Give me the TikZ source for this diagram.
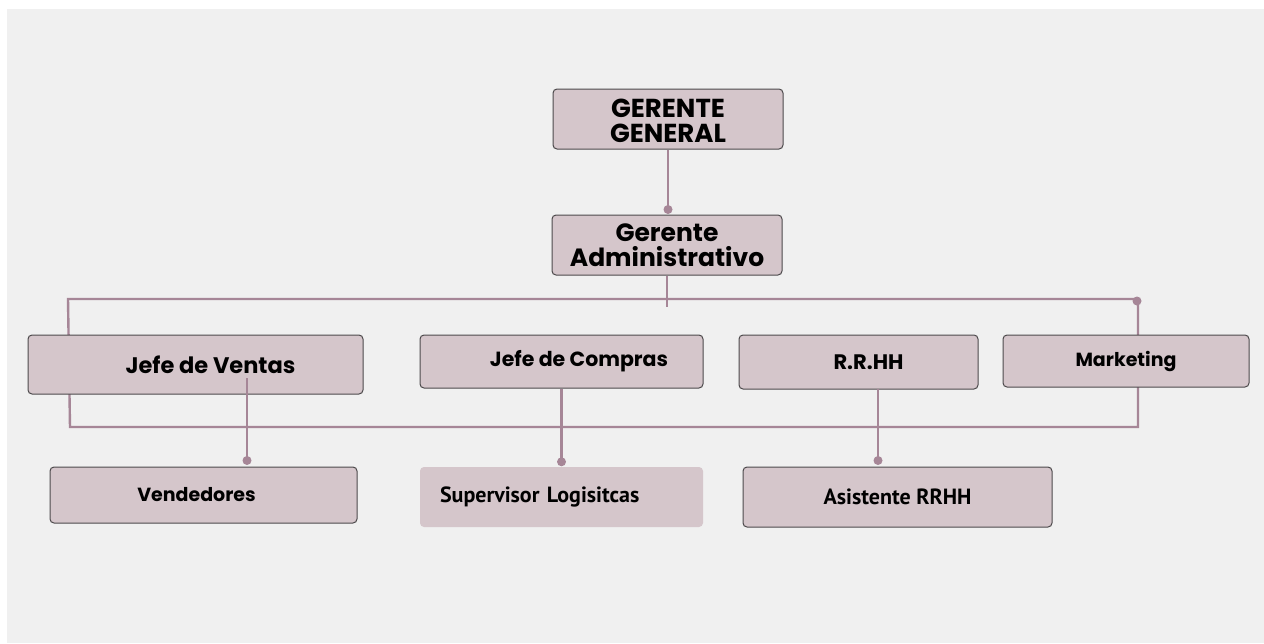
\documentclass[tikz,border=0pt]{standalone}
\usepackage{fontspec}
\setmainfont{Poppins}
\newfontfamily\ptsans{PT Sans}
\usetikzlibrary{calc}
\definecolor{boxfill}{HTML}{D5C6CB}
\definecolor{boxline}{HTML}{4D4A4C}
\definecolor{wire}{HTML}{A68697}
\definecolor{paper}{HTML}{F0F0F0}

\begin{document}
\begin{tikzpicture}[x=1pt, y=-1pt, font=\bfseries,
box/.style={rectangle, rounded corners=4pt, draw=boxline, line width=1pt, fill=boxfill, inner sep=0pt, align=center},
flat/.style={rectangle, rounded corners=4pt, fill=boxfill, inner sep=0pt},
link/.style={draw=wire, line width=2.4pt},
dot/.style={circle, fill=wire, inner sep=0pt, minimum size=9pt}]
 \useasboundingbox (0,0) rectangle (1264,643);
 \fill[white] (0,0) rectangle (1264,643);
 \fill[paper] (7,9) rectangle (1264,643);

 % bus round the second row
 \coordinate (busnw) at (70,299);
 \coordinate (busse) at (1138,427);
 \draw[link] (68,299) -- (busnw |- busse) -- (busse) -- (busse |- busnw) -- cycle;

 \node[box, minimum width=230pt, minimum height=60pt, font=\fontsize{26}{25}\selectfont\bfseries] (gg) at (668,119) {\rule{0pt}{22pt}GERENTE\\GENERAL};
 \node[box, minimum width=230pt, minimum height=60pt, font=\fontsize{25}{25}\selectfont\bfseries] (ga) at (667,245) {Gerente\\Administrativo};
 \node[box, minimum width=335pt, minimum height=59pt, font=\fontsize{22.5}{24}\selectfont\bfseries] (ventas) at (195.5,364.5) {\hspace*{30pt}Jefe de Ventas};
 \node[box, minimum width=283pt, minimum height=53pt, font=\fontsize{20.5}{23}\selectfont\bfseries] (compras) at (561.5,361.5) {\hspace*{35pt}Jefe de Compras};
 \node[box, minimum width=239pt, minimum height=54pt, font=\fontsize{21}{21}\selectfont\bfseries] (rrhh) at (858.5,362) {\hspace*{20pt}R.R.HH};
 \node[box, minimum width=246pt, minimum height=52pt, font=\fontsize{19}{21}\selectfont\bfseries] (mkt) at (1126,361) {Marketing};
 \node[box, minimum width=307pt, minimum height=56pt, font=\fontsize{19}{22}\selectfont\bfseries] (vend) at (203.5,495) {Vendedores\hspace*{14pt}};
 \node[flat, text width=243pt, inner xsep=20pt, minimum height=60pt, font=\ptsans\fontsize{22}{22}\selectfont\bfseries] (superv) at (561.5,497) {Supervisor Logisitcas\\[4pt]};
 \node[box, minimum width=309pt, minimum height=60pt, font=\ptsans\fontsize{22}{23}\selectfont\bfseries] (asist) at (897.5,497) {Asistente RRHH};

 \draw[link] (gg.south) -- ($(gg.south |- ga.north)+(0,-5)$) node[dot] {};
 \draw[link] (ga.south) -- ($(ga.south)+(0,31)$);
 \node[dot] at ($(busse |- busnw)+(-1,2)$) {};

 \coordinate (vdown) at (247,378);
 \draw[link] (vdown) -- ($(vdown |- vend.north)+(0,-6)$) node[dot] {};
 \draw[link] (compras.south) -- ($(compras.south |- superv.north)+(0,-5)$) node[dot] {};
 \coordinate (rdown) at (878,389);
 \draw[link] (rdown) -- ($(rdown |- asist.north)+(0,-6)$) node[dot] {};
\end{tikzpicture}
\end{document}
